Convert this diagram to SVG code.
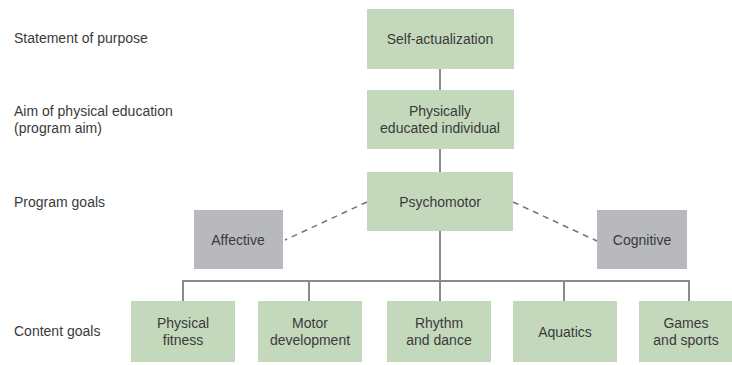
<svg xmlns="http://www.w3.org/2000/svg" width="732" height="365" viewBox="0 0 732 365">
<style>
text{font-family:"Liberation Sans",Arial,sans-serif;font-size:14px;fill:#3a3a3a;}
.c{text-anchor:middle;}
.g{fill:#c4d9bb;}
.k{fill:#b8b9bd;}
.ln{stroke:#8a8a8a;stroke-width:2;fill:none;}
.ds{stroke:#777;stroke-width:1.6;stroke-dasharray:6 5;fill:none;}
</style>
<rect width="732" height="365" fill="#fff"/>
<g id="labels">
<text x="14" y="43">Statement of purpose</text>
<text x="14" y="116">Aim of physical education</text>
<text x="14" y="133">(program aim)</text>
<text x="14" y="207">Program goals</text>
<text x="14" y="336">Content goals</text>
</g>
<g id="connectors">
<line class="ln" x1="440" y1="69" x2="440" y2="90"/>
<line class="ln" x1="440" y1="149" x2="440" y2="172"/>
<line class="ln" x1="440" y1="231" x2="440" y2="281"/>
<polyline class="ln" points="183,301 183,281 689,281 689,301"/>
<line class="ln" x1="309" y1="281" x2="309" y2="301"/>
<line class="ln" x1="440" y1="281" x2="440" y2="301"/>
<line class="ln" x1="564" y1="281" x2="564" y2="301"/>
<line class="ds" x1="367" y1="202" x2="285" y2="240"/>
<line class="ds" x1="513" y1="202" x2="597" y2="241"/>
</g>
<g id="self"><rect class="g" x="367" y="9" width="147" height="60"/><text class="c" x="440" y="44">Self-actualization</text></g>
<g id="physedu"><rect class="g" x="367" y="90" width="147" height="59"/><text class="c" x="440" y="116">Physically</text><text class="c" x="440" y="133">educated individual</text></g>
<g id="psychomotor"><rect class="g" x="367" y="172" width="146" height="59"/><text class="c" x="440" y="207">Psychomotor</text></g>
<g id="affective"><rect class="k" x="194" y="210" width="89" height="59"/><text class="c" x="238" y="245">Affective</text></g>
<g id="cognitive"><rect class="k" x="597" y="210" width="90" height="59"/><text class="c" x="642" y="245">Cognitive</text></g>
<g id="fitness"><rect class="g" x="131" y="301" width="104" height="61"/><text class="c" x="183" y="328">Physical</text><text class="c" x="183" y="345">fitness</text></g>
<g id="motor"><rect class="g" x="258" y="301" width="104" height="61"/><text class="c" x="310" y="328">Motor</text><text class="c" x="310" y="345">development</text></g>
<g id="rhythm"><rect class="g" x="387" y="301" width="104" height="61"/><text class="c" x="439" y="328">Rhythm</text><text class="c" x="439" y="345">and dance</text></g>
<g id="aquatics"><rect class="g" x="513" y="301" width="104" height="61"/><text class="c" x="565" y="337">Aquatics</text></g>
<g id="games"><rect class="g" x="639" y="301" width="104" height="61"/><text class="c" x="686" y="328">Games</text><text class="c" x="686" y="345">and sports</text></g>
</svg>
